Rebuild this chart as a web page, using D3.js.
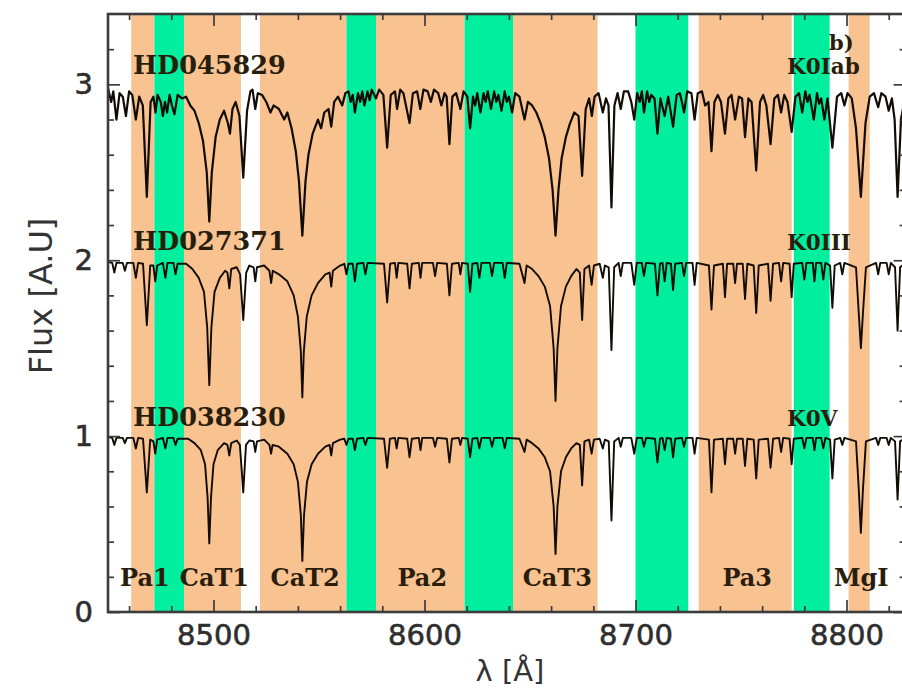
<!DOCTYPE html>
<html>
<head>
<meta charset="utf-8">
<script src="https://cdn.jsdelivr.net/npm/d3@7"></script>
<style>
  html, body { margin: 0; padding: 0; background: #fff; }
  svg { display: block; }
</style>
</head>
<body>
<svg id="chart" width="902" height="688"></svg>
<script>
// Index bandpasses (Å): feature bands shaded orange, continuum bands shaded green
const featureNames = ["Pa1", "CaT1", "CaT2", "Pa2", "CaT3", "Pa3", "MgI"];
const featureLo = [8461, 8486, 8522, 8577, 8642, 8730, 8801];
const featureHi = [8472, 8513, 8563, 8619, 8682, 8774, 8811];
const continuumLo = [8472, 8563, 8619, 8700, 8775];
const continuumHi = [8486, 8577, 8642, 8725, 8792];

// Axis ticks
const xMajor = [8500, 8600, 8700, 8800];
const xMinor = [8460, 8480, 8520, 8540, 8560, 8580, 8620, 8640, 8660, 8680,
                8720, 8740, 8760, 8780, 8820];
const yMajor = [0, 1, 2, 3];
const yMinor = [0.2, 0.4, 0.6, 0.8, 1.2, 1.4, 1.6, 1.8, 2.2, 2.4, 2.6, 2.8, 3.2];

// Stars: name, spectral type, vertical offset of the normalised spectrum
const starNames = ["HD045829", "HD027371", "HD038230"];
const starTypes = ["K0Iab", "K0III", "K0V"];
const starOffsets = [3, 2, 1];

// Spectrum of HD045829 (K0Iab), [wavelength Å, flux + 2]
const specIab = [
  [8450,2.98],[8451.5,2.9],[8452.5,2.96],[8454,2.8],[8455.5,2.95],[8457,2.93],[8458.5,2.82],[8460,2.96],
  [8461.5,2.94],[8463.2,2.8],[8464.8,2.93],[8466.5,2.88],[8468.4,2.36],[8470.2,2.9],
  [8471.5,2.93],[8472.5,2.84],[8473.5,2.94],[8475,2.9],[8476,2.82],[8477,2.9],[8478,2.84],[8479.2,2.94],[8480.3,2.88],[8481.5,2.83],[8483,2.94],[8485,2.92],
  [8487,2.93],[8489,2.88],[8491,2.85],[8493,2.78],[8495,2.68],[8496.8,2.5],[8498,2.22],[8499.2,2.5],[8501,2.7],[8503,2.8],[8505,2.85],[8506.8,2.78],[8507.8,2.72],[8509,2.86],[8510.5,2.9],
  [8512.3,2.82],[8514.1,2.47],[8515.9,2.85],[8517.5,2.96],[8518.5,2.97],[8519.8,2.86],[8521,2.95],
  [8523,2.94],[8525,2.9],[8527,2.84],[8528.5,2.88],[8531,2.86],[8533.5,2.8],[8535,2.84],[8537,2.75],[8539,2.62],[8540.5,2.45],[8542.1,2.14],[8543.6,2.45],[8545,2.6],[8547,2.72],[8549.5,2.8],[8551,2.75],[8552.5,2.84],[8554.5,2.86],[8555.8,2.76],[8557.2,2.9],[8559,2.93],[8561,2.88],[8562.5,2.95],
  [8564,2.96],[8565,2.9],[8566,2.94],[8567,2.84],[8568.5,2.95],[8569.5,2.9],[8570.5,2.96],[8571.5,2.88],[8573,2.96],[8574,2.91],[8575,2.97],[8577,2.92],[8578.5,2.97],
  [8580.5,2.94],[8582.3,2.64],[8584,2.94],[8586,2.96],[8587,2.86],[8588.5,2.97],[8590,2.95],[8592.9,2.78],[8594.5,2.95],[8596.5,2.96],[8598,2.86],[8599.5,2.97],[8601.5,2.96],[8603,2.9],[8604.5,2.97],[8606.5,2.95],[8608,2.88],[8609.5,2.95],
  [8610.5,2.93],[8611.8,2.66],[8613.2,2.93],[8615,2.95],[8617,2.86],[8618.5,2.96],
  [8620.3,2.93],[8621.6,2.75],[8623,2.93],[8624,2.88],[8625,2.95],[8626.5,2.84],[8628,2.95],[8629,2.9],[8630,2.96],[8631.5,2.86],[8633,2.96],[8634,2.9],[8635,2.94],[8636.5,2.85],[8638,2.96],[8639,2.9],[8640,2.93],[8641.5,2.84],[8643,2.95],
  [8645,2.93],[8647.4,2.8],[8649,2.9],[8651,2.88],[8653,2.84],[8655,2.78],[8657,2.7],[8659,2.58],[8660.7,2.4],[8662.1,2.14],[8663.5,2.4],[8665,2.58],[8667,2.7],[8669,2.78],[8671,2.84],[8673,2.82],
  [8674.7,2.48],[8676.4,2.86],[8678,2.92],[8679.3,2.82],[8680.6,2.93],[8682.5,2.95],[8684.5,2.84],[8686,2.92],
  [8687.2,2.88],[8688.6,2.3],[8690,2.88],[8691.5,2.95],[8693,2.86],[8694.5,2.96],[8696.5,2.96],[8698,2.9],[8699.4,2.8],[8700.8,2.95],[8702,2.9],[8703,2.96],[8704,2.84],[8705.5,2.96],[8706.5,2.9],[8707.5,2.94],
  [8709,2.92],[8710.4,2.72],[8711.8,2.92],[8713.8,2.82],[8715.5,2.93],[8717.8,2.76],[8719.5,2.94],[8721,2.95],[8722,2.9],[8723,2.84],[8724.5,2.96],[8726.5,2.95],[8728,2.8],[8729.5,2.95],[8731.5,2.96],[8733,2.88],
  [8734.6,2.9],[8736,2.62],[8737.4,2.9],[8739,2.94],[8740.5,2.9],[8742.4,2.72],[8744,2.92],[8745.5,2.94],[8747.2,2.8],[8749,2.93],[8750.5,2.92],[8751.9,2.7],[8753.5,2.92],[8755,2.9],[8757.2,2.51],[8759,2.9],[8760.5,2.94],[8762,2.88],[8764,2.66],[8765.8,2.92],[8767.5,2.94],[8769,2.84],[8770.5,2.94],[8772,2.9],[8774,2.73],[8775.8,2.93],
  [8777.5,2.95],[8779,2.84],[8780.5,2.96],[8781.5,2.9],[8782.5,2.94],[8784.5,2.8],[8786,2.95],[8787,2.89],[8788,2.92],[8789.5,2.8],[8791,2.92],[8793.3,2.64],[8795.5,2.93],[8797.5,2.95],[8799,2.88],[8800.5,2.95],
  [8802.5,2.92],[8804.5,2.75],[8806.8,2.36],[8809,2.78],[8811,2.93],[8813,2.95],[8815,2.87],[8816.5,2.95],[8818.5,2.93],[8820,2.85],[8821.5,2.92],[8822.8,2.8],[8824.2,2.36],[8825.8,2.8],[8828,2.94]
];

// Spectrum of HD027371 (K0III), [wavelength Å, flux + 1]
const specIII = [
  [8450,1.99],[8452,1.985],[8453,1.93],[8454,1.985],[8457,1.985],[8458,1.94],[8459,1.985],
  [8462,1.985],[8463.2,1.9],[8464.3,1.985],[8466.6,1.98],[8468.4,1.63],[8470,1.97],
  [8471.5,1.97],[8472.4,1.88],[8473.3,1.97],[8476,1.985],[8477.2,1.9],[8478.2,1.985],[8481,1.985],[8482,1.92],[8483,1.98],
  [8487,1.98],[8490,1.95],[8493,1.9],[8495.5,1.82],[8497,1.62],[8498,1.29],[8499,1.62],[8500.5,1.82],[8503,1.9],[8505.5,1.94],
  [8506.6,1.93],[8507.5,1.84],[8508.4,1.95],[8511,1.96],[8512.6,1.92],[8514.1,1.66],[8515.5,1.93],[8517,1.97],
  [8519,1.96],[8519.8,1.88],[8520.6,1.96],
  [8524,1.97],[8526.5,1.94],[8527.3,1.87],[8528.1,1.94],[8531,1.92],[8535,1.88],[8538,1.8],[8540,1.68],[8541.4,1.48],[8542.1,1.22],[8542.8,1.48],[8544.2,1.68],[8546.5,1.8],[8549.5,1.87],[8553,1.92],[8555,1.93],[8555.8,1.85],[8556.6,1.94],[8560,1.97],
  [8562,1.98],[8563,1.92],[8564,1.98],[8566,1.98],[8567,1.88],[8568,1.98],[8571,1.985],[8572,1.92],[8573,1.985],
  [8580.8,1.98],[8582.3,1.76],[8583.7,1.98],[8586,1.985],[8586.8,1.9],[8587.6,1.985],[8591.8,1.98],[8592.9,1.84],[8594,1.98],
  [8597.3,1.985],[8598.1,1.9],[8598.9,1.985],[8604,1.985],[8605,1.91],[8606,1.985],[8610.6,1.98],[8611.8,1.8],[8613,1.98],
  [8616.2,1.985],[8617,1.92],[8617.8,1.985],[8620.5,1.98],[8621.6,1.82],[8622.7,1.98],[8625,1.985],[8626,1.9],[8627,1.985],
  [8631,1.985],[8632,1.91],[8633,1.985],[8637,1.985],[8638,1.9],[8639,1.985],
  [8645,1.98],[8647.4,1.87],[8648.4,1.97],[8651,1.95],[8654,1.91],[8657,1.85],[8659.5,1.74],[8661.2,1.5],[8662.1,1.2],[8663,1.5],[8664.7,1.74],[8667,1.85],[8669.5,1.91],[8672,1.95],
  [8673.6,1.93],[8674.7,1.66],[8675.8,1.95],[8678,1.97],[8679.2,1.86],[8680.3,1.97],[8683,1.98],[8684.5,1.9],[8685.5,1.97],
  [8687.3,1.96],[8688.6,1.49],[8689.9,1.96],[8692,1.985],[8693,1.91],[8694,1.985],[8698,1.985],[8699.4,1.86],[8700.6,1.985],
  [8703,1.985],[8704,1.91],[8705,1.985],[8709.2,1.98],[8710.4,1.8],[8711.6,1.98],[8712.8,1.985],[8713.8,1.88],[8714.8,1.985],
  [8716.8,1.98],[8717.8,1.83],[8718.8,1.98],[8722,1.985],[8723,1.91],[8724,1.985],[8727,1.985],[8728,1.86],[8729,1.985],
  [8734.8,1.97],[8736,1.72],[8737.2,1.97],[8741.4,1.98],[8742.4,1.79],[8743.4,1.98],[8746.3,1.98],[8747.2,1.87],[8748.1,1.98],
  [8750.8,1.98],[8751.9,1.78],[8753,1.98],[8756,1.97],[8757.2,1.7],[8758.4,1.97],[8762.8,1.98],[8764,1.77],[8765.2,1.98],
  [8768,1.985],[8769,1.88],[8770,1.985],[8773,1.98],[8774,1.79],[8775,1.98],[8779,1.985],[8780,1.89],[8781,1.985],
  [8784,1.985],[8784.8,1.88],[8785.6,1.985],[8788,1.985],[8789,1.89],[8790,1.985],[8792.2,1.97],[8793.3,1.73],[8794.4,1.97],
  [8797,1.985],[8798,1.92],[8799,1.985],[8804.5,1.96],[8805.8,1.7],[8806.8,1.5],[8807.8,1.7],[8809.2,1.96],
  [8814,1.985],[8815,1.92],[8816,1.985],[8819,1.985],[8820,1.92],[8821,1.985],[8823,1.96],[8824.2,1.6],[8825.4,1.96],[8828,1.985]
];

// Spectrum of HD038230 (K0V), [wavelength Å, flux]
const specV = [
  [8450,0.995],[8452,0.99],[8453,0.95],[8454,0.99],[8457,0.99],[8458,0.96],[8459,0.99],
  [8462,0.99],[8463.2,0.93],[8464.3,0.99],[8466.6,0.985],[8468.4,0.68],[8470,0.98],
  [8471.5,0.97],[8472.4,0.9],[8473.3,0.98],[8476,0.99],[8477.2,0.93],[8478.2,0.99],[8481,0.99],[8482,0.95],[8483,0.985],
  [8488,0.985],[8491,0.96],[8494,0.92],[8496,0.84],[8497.2,0.65],[8498,0.39],[8498.8,0.65],[8500,0.84],[8502,0.92],[8505,0.96],
  [8506.6,0.95],[8507.5,0.89],[8508.4,0.96],[8511,0.975],[8512.5,0.95],[8514.1,0.68],[8515.4,0.95],[8517,0.975],
  [8519,0.97],[8519.8,0.91],[8520.6,0.97],
  [8524,0.98],[8526.5,0.95],[8527.3,0.9],[8528,0.95],[8531,0.94],[8535,0.9],[8538,0.84],[8540,0.74],[8541.4,0.55],[8542.1,0.29],[8542.9,0.55],[8544.3,0.74],[8546.5,0.84],[8549.5,0.9],[8553,0.94],[8555,0.95],[8555.8,0.89],[8556.6,0.96],[8560,0.98],
  [8562,0.985],[8563,0.95],[8564,0.985],[8566,0.985],[8567,0.92],[8568,0.985],[8571,0.99],[8572,0.95],[8573,0.99],
  [8580.8,0.985],[8582.3,0.82],[8583.6,0.985],[8586,0.99],[8586.8,0.93],[8587.6,0.99],[8591.8,0.985],[8592.9,0.88],[8594,0.985],
  [8597.3,0.99],[8598.1,0.92],[8598.9,0.99],[8604,0.99],[8605,0.94],[8606,0.99],[8610.6,0.985],[8611.8,0.85],[8613,0.985],
  [8616.2,0.99],[8617,0.95],[8617.8,0.99],[8620.5,0.985],[8621.6,0.88],[8622.7,0.985],[8625,0.99],[8626,0.93],[8627,0.99],
  [8631,0.99],[8632,0.94],[8633,0.99],[8637,0.99],[8638,0.93],[8639,0.99],
  [8645,0.985],[8647.4,0.91],[8648.4,0.98],[8651,0.96],[8654,0.93],[8657,0.88],[8659.5,0.8],[8661.2,0.6],[8662.1,0.33],[8663,0.6],[8664.7,0.8],[8667,0.88],[8669.5,0.93],[8672,0.96],
  [8673.6,0.95],[8674.7,0.72],[8675.8,0.97],[8678,0.98],[8679.2,0.9],[8680.3,0.98],[8683,0.985],[8684.5,0.93],[8685.5,0.98],
  [8687.3,0.97],[8688.6,0.52],[8689.9,0.97],[8692,0.99],[8693,0.94],[8694,0.99],[8698,0.99],[8699.4,0.9],[8700.6,0.99],
  [8703,0.99],[8704,0.94],[8705,0.99],[8709.2,0.985],[8710.4,0.85],[8711.6,0.985],[8712.8,0.99],[8713.8,0.92],[8714.8,0.99],
  [8716.8,0.985],[8717.8,0.88],[8718.8,0.985],[8722,0.99],[8723,0.94],[8724,0.99],[8727,0.99],[8728,0.9],[8729,0.99],
  [8734.8,0.98],[8736,0.68],[8737.2,0.98],[8741.4,0.985],[8742.4,0.84],[8743.4,0.985],[8746.3,0.985],[8747.2,0.9],[8748.1,0.985],
  [8750.8,0.985],[8751.9,0.83],[8753,0.985],[8756,0.98],[8757.2,0.76],[8758.4,0.98],[8762.8,0.985],[8764,0.82],[8765.2,0.985],
  [8768,0.99],[8769,0.91],[8770,0.99],[8773,0.985],[8774,0.84],[8775,0.985],[8779,0.99],[8780,0.93],[8781,0.99],
  [8784,0.99],[8784.8,0.92],[8785.6,0.99],[8788,0.99],[8789,0.93],[8790,0.99],[8792.2,0.98],[8793.3,0.76],[8794.4,0.98],
  [8797,0.99],[8798,0.95],[8799,0.99],[8804.5,0.97],[8805.8,0.7],[8806.8,0.45],[8807.8,0.7],[8809.2,0.97],
  [8814,0.99],[8815,0.95],[8816,0.99],[8819,0.99],[8820,0.95],[8821,0.99],[8823,0.97],[8824.2,0.64],[8825.4,0.97],[8828,0.99]
];
const spectra = [specIab, specIII, specV];

// ---- layout ----
const svg = d3.select("#chart");
const plot = { left: 108, right: 905.6, top: 14, bottom: 612 };

const x = d3.scaleLinear().domain([8450, 8828]).range([plot.left, plot.right]);
const y = d3.scaleLinear().domain([0, 3.4]).range([plot.bottom, plot.top]);

const ORANGE = "#f8c291";
const GREEN = "#00ef9f";
const INK = "#2a1d0c";
const AXIS = "#3c3c3c";

svg.append("defs").append("clipPath").attr("id", "plotClip")
  .append("rect")
  .attr("x", plot.left).attr("y", plot.top)
  .attr("width", plot.right - plot.left).attr("height", plot.bottom - plot.top);

const inner = svg.append("g").attr("clip-path", "url(#plotClip)");

// shaded bandpasses
inner.selectAll("rect.feature")
  .data(featureLo.map((lo, i) => ({ lo, hi: featureHi[i] })))
  .join("rect").attr("class", "feature")
  .attr("x", d => x(d.lo)).attr("width", d => x(d.hi) - x(d.lo))
  .attr("y", plot.top).attr("height", plot.bottom - plot.top)
  .attr("fill", ORANGE);

inner.selectAll("rect.continuum")
  .data(continuumLo.map((lo, i) => ({ lo, hi: continuumHi[i] })))
  .join("rect").attr("class", "continuum")
  .attr("x", d => x(d.lo)).attr("width", d => x(d.hi) - x(d.lo))
  .attr("y", plot.top).attr("height", plot.bottom - plot.top)
  .attr("fill", GREEN);

// spectra
const line = d3.line().x(d => x(d[0])).y(d => y(d[1]));
inner.selectAll("path.spec")
  .data(spectra)
  .join("path").attr("class", "spec")
  .attr("d", line)
  .attr("fill", "none")
  .attr("stroke", "#120c05")
  .attr("stroke-width", (d, i) => i === 0 ? 2.2 : 1.9)
  .attr("stroke-linejoin", "round");

// star labels
const labelFont = "'DejaVu Serif', serif";
inner.selectAll("text.star")
  .data(starNames)
  .join("text").attr("class", "star")
  .attr("x", 133)
  .attr("y", (d, i) => y(starOffsets[i]) - 10)
  .attr("font-family", labelFont)
  .attr("font-weight", "bold")
  .attr("font-size", 25.5)
  .attr("fill", INK)
  .text(d => d);

inner.selectAll("text.stype")
  .data(starTypes)
  .join("text").attr("class", "stype")
  .attr("x", 787)
  .attr("y", (d, i) => y(starOffsets[i]) - 10)
  .attr("font-family", labelFont)
  .attr("font-weight", "bold")
  .attr("font-size", 21.5)
  .attr("fill", INK)
  .text(d => d);

inner.append("text")
  .attr("x", 829).attr("y", 50)
  .attr("font-family", labelFont)
  .attr("font-weight", "bold")
  .attr("font-size", 21)
  .attr("fill", INK)
  .text("b)");

// band names along the bottom
inner.selectAll("text.band")
  .data(featureNames)
  .join("text").attr("class", "band")
  .attr("x", (d, i) => x((featureLo[i] + featureHi[i]) / 2) + 2)
  .attr("y", 586)
  .attr("text-anchor", "middle")
  .attr("font-family", labelFont)
  .attr("font-weight", "bold")
  .attr("font-size", 24)
  .attr("fill", INK)
  .text(d => d);

// ---- axes (ticks point inward on all four sides) ----
function styleAxis(g) {
  g.select(".domain").remove();
  g.selectAll(".tick line").attr("stroke", AXIS).attr("stroke-width", 1.7);
  g.selectAll(".tick text")
    .attr("font-family", "'DejaVu Sans', sans-serif")
    .attr("font-size", 29)
    .attr("fill", "#2e2e2e")
    .attr("stroke", "#2e2e2e")
    .attr("stroke-width", 0.6);
}

svg.append("g").attr("transform", `translate(0,${plot.bottom})`)
  .call(d3.axisBottom(x).tickValues(xMajor).tickSize(-12).tickPadding(12).tickFormat(d3.format("d")))
  .call(styleAxis);
svg.append("g").attr("transform", `translate(0,${plot.bottom})`)
  .call(d3.axisBottom(x).tickValues(xMinor).tickSize(-6).tickFormat(""))
  .call(styleAxis);
svg.append("g").attr("transform", `translate(0,${plot.top})`)
  .call(d3.axisTop(x).tickValues(xMajor).tickSize(-12).tickFormat(""))
  .call(styleAxis);
svg.append("g").attr("transform", `translate(0,${plot.top})`)
  .call(d3.axisTop(x).tickValues(xMinor).tickSize(-6).tickFormat(""))
  .call(styleAxis);

svg.append("g").attr("transform", `translate(${plot.left},0)`)
  .call(d3.axisLeft(y).tickValues(yMajor).tickSize(-12).tickPadding(15).tickFormat(d3.format("d")))
  .call(styleAxis);
svg.append("g").attr("transform", `translate(${plot.left},0)`)
  .call(d3.axisLeft(y).tickValues(yMinor).tickSize(-6).tickFormat(""))
  .call(styleAxis);
svg.append("g").attr("transform", `translate(${plot.right},0)`)
  .call(d3.axisRight(y).tickValues(yMajor).tickSize(-12).tickFormat(""))
  .call(styleAxis);
svg.append("g").attr("transform", `translate(${plot.right},0)`)
  .call(d3.axisRight(y).tickValues(yMinor).tickSize(-6).tickFormat(""))
  .call(styleAxis);

// frame
svg.append("rect")
  .attr("x", plot.left).attr("y", plot.top)
  .attr("width", plot.right - plot.left).attr("height", plot.bottom - plot.top)
  .attr("fill", "none").attr("stroke", AXIS).attr("stroke-width", 2.6);

// axis titles
svg.append("text")
  .attr("transform", "translate(52,296) rotate(-90)")
  .attr("text-anchor", "middle")
  .attr("font-family", "'DejaVu Sans', sans-serif")
  .attr("font-size", 32)
  .attr("fill", "#333")
  .text("Flux [A.U]");

svg.append("text")
  .attr("x", 510).attr("y", 681)
  .attr("text-anchor", "middle")
  .attr("font-family", "'DejaVu Sans', sans-serif")
  .attr("font-size", 29)
  .attr("fill", "#333")
  .text("λ [Å]");
</script>
</body>
</html>
